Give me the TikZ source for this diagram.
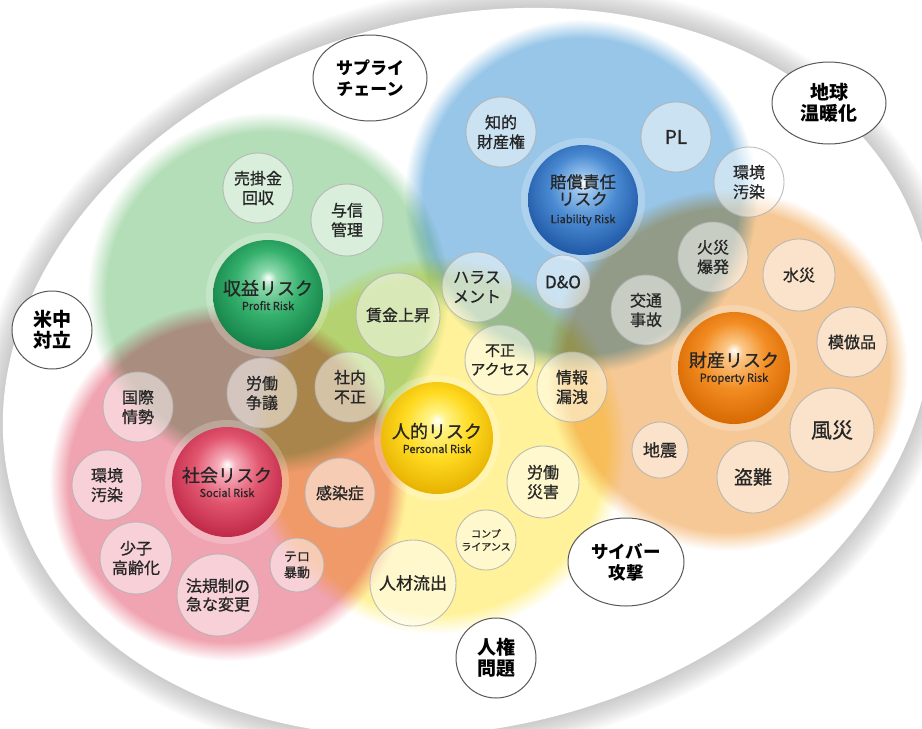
\documentclass[tikz,border=0pt]{standalone}
\usepackage{fontspec}
\newfontfamily\jp{Noto Sans CJK JP}[FakeBold=0.8]
\newfontfamily\jpb{Noto Sans CJK JP}
\usetikzlibrary{shapes.geometric}
\definecolor{cG}{HTML}{B4DEB8}
\definecolor{cB}{HTML}{98C6E8}
\definecolor{cO}{HTML}{F6C895}
\definecolor{cP}{HTML}{F0A3B0}
\definecolor{cY}{HTML}{FFF29A}
% ball colours
\definecolor{gA}{HTML}{8FDAAE}\definecolor{gB}{HTML}{34B06C}\definecolor{gC}{HTML}{138046}
\definecolor{bA}{HTML}{9CC6EE}\definecolor{bB}{HTML}{4A8AD2}\definecolor{bC}{HTML}{1E56A4}
\definecolor{oA}{HTML}{FBC888}\definecolor{oB}{HTML}{F28C22}\definecolor{oC}{HTML}{D66800}
\definecolor{pA}{HTML}{F6AEBC}\definecolor{pB}{HTML}{E2566F}\definecolor{pC}{HTML}{BE2646}
\definecolor{yA}{HTML}{FFF48A}\definecolor{yB}{HTML}{FFDA20}\definecolor{yC}{HTML}{E6B000}
\pgfdeclareradialshading{softG}{\pgfpoint{0bp}{0bp}}{color(0bp)=(cG); color(22.3bp)=(cG); color(25bp)=(white); color(50bp)=(white)}
\pgfdeclareradialshading{softB}{\pgfpoint{0bp}{0bp}}{color(0bp)=(cB); color(22.3bp)=(cB); color(25bp)=(white); color(50bp)=(white)}
\pgfdeclareradialshading{softO}{\pgfpoint{0bp}{0bp}}{color(0bp)=(cO); color(22.3bp)=(cO); color(25bp)=(white); color(50bp)=(white)}
\pgfdeclareradialshading{softP}{\pgfpoint{0bp}{0bp}}{color(0bp)=(cP); color(22.3bp)=(cP); color(25bp)=(white); color(50bp)=(white)}
\pgfdeclareradialshading{softY}{\pgfpoint{0bp}{0bp}}{color(0bp)=(cY); color(22.3bp)=(cY); color(25bp)=(white); color(50bp)=(white)}
\pgfdeclareradialshading{ballG}{\pgfpoint{0bp}{8bp}}{color(0bp)=(white); color(4bp)=(gA); color(15bp)=(gB); color(29bp)=(gC); color(50bp)=(gC)}
\pgfdeclareradialshading{ballB}{\pgfpoint{0bp}{8bp}}{color(0bp)=(white); color(4bp)=(bA); color(15bp)=(bB); color(29bp)=(bC); color(50bp)=(bC)}
\pgfdeclareradialshading{ballO}{\pgfpoint{0bp}{8bp}}{color(0bp)=(white); color(4bp)=(oA); color(15bp)=(oB); color(29bp)=(oC); color(50bp)=(oC)}
\pgfdeclareradialshading{ballP}{\pgfpoint{0bp}{8bp}}{color(0bp)=(white); color(4bp)=(pA); color(15bp)=(pB); color(29bp)=(pC); color(50bp)=(pC)}
\pgfdeclareradialshading{ballY}{\pgfpoint{0bp}{8bp}}{color(0bp)=(white); color(4bp)=(yA); color(15bp)=(yB); color(29bp)=(yC); color(50bp)=(yC)}
\newcommand\subtxt{\fontsize{11}{11}\selectfont}
\tikzset{
  bub/.style={circle, draw=black!30, line width=0.9pt, fill=white, fill opacity=0.5,
    draw opacity=0.85, text opacity=1, text=black!85, inner sep=0pt, align=center,
    font=\jp\fontsize{16}{19.5}\selectfont, minimum size=#1},
  bub/.default=70pt,
  ball/.style={circle, shade, shading=#1, minimum size=110pt, inner sep=0pt, align=center,
    text=black!85, font=\jp\fontsize{18}{15}\selectfont},
  ext/.style={ellipse, draw=black!65, line width=1pt, fill=white, inner sep=0pt, align=center,
    text=black, font=\jpb\bfseries\fontsize{19}{21}\selectfont},
  halo/.style={white, opacity=0.22}
}
\begin{document}
\lineskiplimit=-20pt
\begin{tikzpicture}[x=1pt,y=-1pt]
\useasboundingbox (0,0) rectangle (922,729);
% outer ellipse with soft shadow
\begin{scope}[rotate around={15:(468,372)}]
  \foreach \k in {1,...,14} {\fill[black, opacity=0.016] (468,372) ellipse [x radius=472pt+1.8pt*\k, y radius=355pt+1.8pt*\k];}
  \fill[white] (468,372) ellipse [x radius=472pt, y radius=355pt];
\end{scope}
% big translucent risk areas (soft edged, multiplied where they overlap)
\shade[shading=softG, blend mode=multiply] (268,293) circle [radius=181pt];
\shade[shading=softB, blend mode=multiply] (581,196) circle [radius=177pt];
\shade[shading=softO, blend mode=multiply] (727,370) circle [radius=181pt];
\shade[shading=softP, blend mode=multiply] (228,482) circle [radius=179pt];
\shade[shading=softY, blend mode=multiply] (437,445) circle [radius=189pt];
% halos
\fill[halo] (268,295) circle [radius=62pt];
\fill[halo] (583,200) circle [radius=62pt];
\fill[halo] (734,368) circle [radius=63pt];
\fill[halo] (227,482) circle [radius=62pt];
\fill[halo] (437,438) circle [radius=63pt];
% central balls
\node[ball=ballG] (profit) at (268,295) {収益リスク\\\subtxt Profit Risk};
\node[ball=ballB, font=\jp\fontsize{16.5}{17}\selectfont] (liab) at (583,200) {賠償責任\\リスク\\[1pt]\subtxt Liability Risk};
\node[ball=ballO, minimum size=112pt] (prop) at (734,368) {財産リスク\\\subtxt Property Risk};
\node[ball=ballP] (social) at (227,482) {社会リスク\\\subtxt Social Risk};
\node[ball=ballY, minimum size=112pt] (person) at (437,438) {人的リスク\\\subtxt Personal Risk};
% small bubbles
\node[bub] (uri) at (258,188) {売掛金\\回収};
\node[bub=72pt] (yoshin) at (347,220) {与信\\管理};
\node[bub=84pt] (chingin) at (398,315) {賃金上昇};
\node[bub] (chiteki) at (501,132) {知的\\財産権};
\node[bub, font=\jp\fontsize{19}{19}\selectfont] (pl) at (676,137) {PL};
\node[bub=54pt, font=\jp\fontsize{17}{17}\selectfont] (dando) at (563,282) {D\&O};
\node[bub] (kankyoA) at (749,182) {環境\\汚染};
\node[bub] (hara) at (477,287) {ハラス\\メント};
\node[bub] (kotsu) at (646,310) {交通\\事故};
\node[bub] (kasai) at (713,257) {火災\\爆発};
\node[bub=72pt] (suisai) at (799,275) {水災};
\node[bub] (mohou) at (852,342) {模倣品};
\node[bub=84pt, font=\jp\fontsize{21}{21}\selectfont] (fusai) at (832,430) {風災};
\node[bub=72pt, font=\jp\fontsize{19}{19}\selectfont] (tonan) at (753,477) {盗難};
\node[bub=56pt, font=\jp\fontsize{17}{17}\selectfont] (jishin) at (660,450) {地震};
\node[bub] (joho) at (572,387) {情報\\漏洩};
\node[bub, font=\jp\fontsize{15}{19}\selectfont] (fusei) at (500,360) {不正\\アクセス};
\node[bub] (shanai) at (350,387) {社内\\不正};
\node[bub] (rodo) at (262,393) {労働\\争議};
\node[bub] (kokusai) at (138,407) {国際\\情勢};
\node[bub] (kankyoB) at (107,485) {環境\\汚染};
\node[bub=72pt] (shoshi) at (136,558) {少子\\高齢化};
\node[bub=82pt, font=\jp\fontsize{16}{18.5}\selectfont] (hoki) at (218,595) {法規制の\\急な変更};
\node[bub=54pt, font=\jp\fontsize{13}{16}\selectfont] (tero) at (297,565) {テロ\\暴動};
\node[bub] (kansen) at (340,493) {感染症};
\node[bub=86pt, font=\jp\fontsize{17}{17}\selectfont] (jinzai) at (413,583) {人材流出};
\node[bub=72pt] (rosai) at (543,482) {労働\\災害};
\node[bub=60pt, font=\jp\fontsize{10}{13}\selectfont] (compl) at (486,540) {コンプ\\ライアンス};
% external factors
\node[ext, minimum width=114pt, minimum height=86pt, font=\jpb\bfseries\fontsize{17}{21}\selectfont] (supply) at (370,78) {サプライ\\チェーン};
\node[ext, minimum width=114pt, minimum height=82pt] (warming) at (829,103) {地球\\温暖化};
\node[ext, minimum width=80pt, minimum height=78pt] (uschina) at (52,330) {米中\\対立};
\node[ext, minimum width=116pt, minimum height=88pt, font=\jpb\bfseries\fontsize{17.5}{21}\selectfont] (cyber) at (626,562) {サイバー\\攻撃};
\node[ext, minimum width=80pt, minimum height=80pt] (rights) at (496,658) {人権\\問題};
\end{tikzpicture}
\end{document}
